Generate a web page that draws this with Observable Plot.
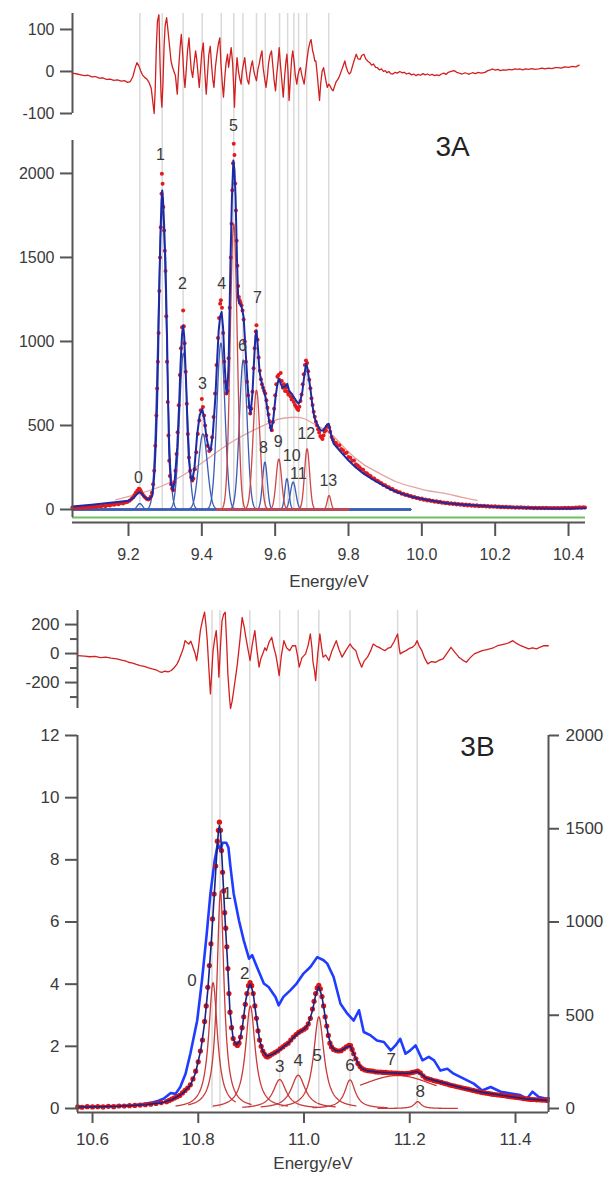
<!DOCTYPE html>
<html><head><meta charset="utf-8">
<script src="https://cdn.jsdelivr.net/npm/d3@7"></script>
<script src="https://cdn.jsdelivr.net/npm/@observablehq/plot@0.6"></script>
<style>
html,body{margin:0;padding:0;background:#fff;}
#wrap{position:relative;width:609px;height:1179px;overflow:hidden;background:#fff;}
</style></head><body><div id="wrap"></div>
<script>
// ---------------- 3A data ----------------
const aPeakLines = [9.231, 9.292, 9.349, 9.401, 9.453, 9.487, 9.512, 9.549, 9.573, 9.612, 9.634, 9.651, 9.664, 9.686, 9.746];
const aResidual = [[9.047,-4],[9.06,-6],[9.07,-8],[9.08,-10],[9.09,-9],[9.10,-13],[9.11,-12],[9.12,-16],[9.13,-15],[9.14,-19],[9.15,-18],[9.16,-21],[9.17,-20],[9.18,-23],[9.19,-22],[9.197,-26],[9.205,-24],[9.212,-12],[9.218,8],[9.223,21],[9.228,14],[9.233,2],[9.238,-8],[9.244,-14],[9.250,-18],[9.256,-26],[9.262,-40],[9.266,-70],[9.270,-100],[9.273,-40],[9.276,60],[9.279,120],[9.283,135],[9.286,20],[9.289,-60],[9.291,-85],[9.294,-30],[9.297,60],[9.300,110],[9.304,128],[9.308,95],[9.312,60],[9.316,25],[9.320,10],[9.324,0],[9.328,-10],[9.333,-54],[9.337,10],[9.341,60],[9.344,88],[9.348,40],[9.351,-10],[9.354,-38],[9.358,10],[9.361,50],[9.365,80],[9.368,40],[9.371,5],[9.375,-14],[9.379,20],[9.383,49],[9.386,30],[9.390,-10],[9.393,-38],[9.397,10],[9.400,45],[9.404,68],[9.408,0],[9.412,-54],[9.416,0],[9.419,40],[9.423,60],[9.427,10],[9.430,-20],[9.433,-38],[9.437,10],[9.441,40],[9.445,65],[9.449,80],[9.452,20],[9.456,-30],[9.459,-61],[9.463,-10],[9.466,20],[9.470,41],[9.473,10],[9.476,30],[9.480,57],[9.484,20],[9.487,-40],[9.489,-85],[9.492,-20],[9.496,33],[9.500,0],[9.503,-15],[9.507,-30],[9.510,0],[9.514,20],[9.517,33],[9.521,0],[9.524,-20],[9.528,-30],[9.531,-5],[9.535,15],[9.538,25],[9.542,0],[9.545,-10],[9.549,-22],[9.553,5],[9.557,20],[9.560,35],[9.564,49],[9.567,10],[9.571,-15],[9.575,-38],[9.579,-10],[9.582,20],[9.586,40],[9.590,49],[9.594,10],[9.597,-20],[9.601,-46],[9.604,-10],[9.608,25],[9.611,57],[9.614,20],[9.618,-20],[9.622,-61],[9.626,-10],[9.629,20],[9.632,41],[9.635,0],[9.638,-69],[9.642,-10],[9.645,30],[9.648,49],[9.652,20],[9.655,-10],[9.659,-30],[9.662,-10],[9.666,5],[9.669,9],[9.673,-10],[9.676,-20],[9.679,-30],[9.683,0],[9.687,30],[9.691,55],[9.695,70],[9.698,76],[9.702,50],[9.705,40],[9.708,25],[9.711,25],[9.715,-10],[9.718,-40],[9.721,-69],[9.724,-30],[9.728,0],[9.732,9],[9.736,-10],[9.739,-25],[9.742,-38],[9.746,-30],[9.750,-35],[9.754,-42],[9.758,-46],[9.762,-35],[9.766,-25],[9.770,-20],[9.774,-14],[9.778,-5],[9.782,5],[9.786,15],[9.790,25],[9.794,10],[9.798,0],[9.802,-6],[9.806,-2],[9.810,10],[9.815,25],[9.821,41],[9.826,30],[9.832,29],[9.836,38],[9.842,41],[9.847,30],[9.852,25],[9.858,21],[9.863,15],[9.868,18],[9.874,10],[9.879,9],[9.884,4],[9.890,6],[9.895,0],[9.900,2],[9.905,-3],[9.910,0],[9.915,-5],[9.921,-6],[9.927,-2],[9.933,-4],[9.940,0],[9.946,-3],[9.952,-2],[9.958,-6],[9.965,-4],[9.972,-8],[9.978,-6],[9.984,-10],[9.990,-7],[9.996,-9],[10.003,-5],[10.009,-8],[10.015,-6],[10.022,-9],[10.028,-7],[10.035,-10],[10.041,-8],[10.047,-10],[10.053,-6],[10.060,-4],[10.066,-7],[10.072,-2],[10.080,0],[10.088,2],[10.095,-2],[10.102,-4],[10.110,-6],[10.118,-3],[10.126,-6],[10.130,-6],[10.138,-3],[10.146,-5],[10.154,-2],[10.162,-4],[10.172,-2],[10.180,2],[10.187,4],[10.193,6],[10.200,3],[10.207,5],[10.214,2],[10.222,4],[10.230,3],[10.238,5],[10.246,4],[10.254,6],[10.262,5],[10.267,6],[10.275,4],[10.283,6],[10.291,5],[10.300,7],[10.308,5],[10.319,6],[10.328,8],[10.336,6],[10.345,8],[10.355,7],[10.364,9],[10.372,9],[10.380,8],[10.390,11],[10.400,10],[10.410,12],[10.420,11],[10.429,15]];
const aSignal = [[9.047,12],[9.053,8],[9.059,14],[9.065,10],[9.071,15],[9.077,9],[9.083,16],[9.089,12],[9.095,18],[9.101,13],[9.107,19],[9.113,15],[9.119,21],[9.125,18],[9.131,24],[9.137,20],[9.143,27],[9.149,24],[9.155,30],[9.161,28],[9.167,34],[9.173,31],[9.179,38],[9.185,36],[9.191,42],[9.197,45],[9.203,52],[9.208,62],[9.212,72],[9.216,86],[9.220,100],[9.224,112],[9.228,123],[9.231,120],[9.234,108],[9.238,92],[9.242,80],[9.246,70],[9.250,62],[9.254,60],[9.258,66],[9.261,78],[9.264,100],[9.267,150],[9.270,230],[9.273,380],[9.276,560],[9.278,720],[9.280,880],[9.282,1050],[9.284,1300],[9.286,1500],[9.288,1680],[9.290,1879],[9.291,1998],[9.293,1938],[9.295,1800],[9.297,1660],[9.299,1540],[9.301,1420],[9.303,1150],[9.305,880],[9.307,640],[9.309,440],[9.311,290],[9.313,200],[9.316,150],[9.319,125],[9.322,115],[9.325,160],[9.328,230],[9.331,330],[9.334,460],[9.337,620],[9.340,800],[9.343,960],[9.346,1085],[9.349,1185],[9.351,1090],[9.353,990],[9.356,820],[9.359,630],[9.362,450],[9.365,310],[9.368,230],[9.371,190],[9.374,172],[9.377,185],[9.381,240],[9.385,340],[9.389,450],[9.393,530],[9.397,590],[9.400,657],[9.403,610],[9.406,560],[9.409,500],[9.412,440],[9.416,380],[9.420,348],[9.424,360],[9.428,430],[9.432,550],[9.436,690],[9.440,860],[9.444,1020],[9.447,1140],[9.450,1225],[9.452,1245],[9.455,1200],[9.458,1050],[9.461,880],[9.464,760],[9.467,690],[9.470,705],[9.473,900],[9.476,1200],[9.479,1500],[9.481,1700],[9.483,1900],[9.485,2060],[9.487,2176],[9.489,2110],[9.491,1940],[9.493,1780],[9.495,1600],[9.497,1450],[9.499,1330],[9.501,1265],[9.503,1245],[9.505,1232],[9.508,1215],[9.511,1185],[9.514,1130],[9.517,1000],[9.520,880],[9.523,760],[9.526,680],[9.529,610],[9.532,572],[9.535,600],[9.538,700],[9.541,840],[9.544,960],[9.547,1060],[9.549,1096],[9.552,1010],[9.555,905],[9.558,825],[9.561,775],[9.564,745],[9.567,725],[9.570,705],[9.573,690],[9.576,650],[9.579,605],[9.582,565],[9.585,525],[9.588,488],[9.591,472],[9.594,520],[9.597,600],[9.600,680],[9.603,745],[9.606,790],[9.609,800],[9.612,770],[9.615,812],[9.618,765],[9.621,725],[9.624,745],[9.627,705],[9.630,725],[9.633,700],[9.636,685],[9.639,695],[9.642,672],[9.645,655],[9.648,665],[9.651,640],[9.654,622],[9.657,612],[9.660,600],[9.663,592],[9.666,612],[9.669,645],[9.672,685],[9.675,745],[9.678,805],[9.681,860],[9.684,887],[9.687,872],[9.690,822],[9.693,772],[9.696,722],[9.699,662],[9.702,622],[9.705,582],[9.708,552],[9.711,522],[9.714,500],[9.717,478],[9.720,458],[9.723,438],[9.726,428],[9.729,420],[9.732,440],[9.735,462],[9.738,472],[9.741,492],[9.744,502],[9.747,490],[9.750,462],[9.754,432],[9.758,415],[9.762,398],[9.766,395],[9.770,378],[9.775,382],[9.780,360],[9.785,352],[9.790,335],[9.795,338],[9.800,312],[9.805,308],[9.810,290],[9.815,292],[9.820,270],[9.825,262],[9.830,252],[9.835,240],[9.840,236],[9.845,218],[9.850,215],[9.855,204],[9.860,200],[9.865,186],[9.870,185],[9.875,172],[9.880,170],[9.885,160],[9.890,156],[9.895,146],[9.900,145],[9.905,134],[9.910,132],[9.915,122],[9.920,122],[9.925,112],[9.930,110],[9.935,102],[9.940,103],[9.945,94],[9.950,94],[9.955,86],[9.960,88],[9.965,80],[9.970,80],[9.975,73],[9.980,75],[9.985,68],[9.990,69],[9.995,63],[10.000,65],[10.005,58],[10.010,60],[10.015,54],[10.020,57],[10.025,50],[10.030,52],[10.035,46],[10.040,49],[10.045,43],[10.050,46],[10.055,40],[10.060,42],[10.065,37],[10.070,40],[10.075,34],[10.080,37],[10.085,32],[10.090,35],[10.095,30],[10.100,33],[10.105,28],[10.110,31],[10.115,26],[10.120,29],[10.125,24],[10.130,28],[10.135,23],[10.140,26],[10.145,21],[10.150,25],[10.155,20],[10.160,23],[10.165,19],[10.170,22],[10.175,18],[10.180,21],[10.185,17],[10.190,20],[10.195,16],[10.200,19],[10.205,15],[10.210,18],[10.215,14],[10.220,17],[10.225,13],[10.230,16],[10.235,12],[10.240,15],[10.245,12],[10.250,14],[10.255,11],[10.260,14],[10.265,10],[10.270,13],[10.275,10],[10.280,12],[10.285,9],[10.290,12],[10.295,9],[10.300,11],[10.305,8],[10.310,11],[10.315,8],[10.320,10],[10.325,8],[10.330,10],[10.335,7],[10.340,10],[10.345,7],[10.350,9],[10.355,7],[10.360,9],[10.365,7],[10.370,9],[10.375,7],[10.380,9],[10.385,8],[10.390,10],[10.395,8],[10.400,10],[10.405,8],[10.410,11],[10.415,9],[10.420,12],[10.425,10],[10.430,13],[10.435,11],[10.440,14],[10.445,12]];
const aFit = [[9.047,18],[9.10,28],[9.169,44],[9.20,52],[9.215,70],[9.224,95],[9.231,103],[9.237,92],[9.244,74],[9.251,63],[9.258,64],[9.265,82],[9.268,140],[9.271,230],[9.275,420],[9.278,629],[9.281,950],[9.284,1304],[9.287,1620],[9.290,1840],[9.292,1899],[9.294,1850],[9.297,1700],[9.301,1462],[9.305,1040],[9.308,640],[9.311,330],[9.315,170],[9.321,113],[9.326,170],[9.333,371],[9.338,620],[9.342,867],[9.346,1040],[9.349,1095],[9.352,1030],[9.357,760],[9.361,480],[9.365,290],[9.370,190],[9.374,172],[9.380,250],[9.387,440],[9.394,560],[9.401,598],[9.406,550],[9.412,440],[9.418,370],[9.424,351],[9.430,450],[9.437,669],[9.442,900],[9.446,1066],[9.450,1150],[9.454,1175],[9.458,1080],[9.462,867],[9.466,720],[9.469,688],[9.473,860],[9.478,1462],[9.482,1850],[9.486,2077],[9.489,2020],[9.492,1859],[9.496,1480],[9.499,1264],[9.502,1225],[9.505,1224],[9.509,1200],[9.514,1145],[9.519,960],[9.524,768],[9.529,620],[9.533,570],[9.538,690],[9.542,867],[9.546,1030],[9.549,1066],[9.553,960],[9.557,830],[9.560,788],[9.565,740],[9.569,709],[9.574,665],[9.578,610],[9.584,520],[9.589,470],[9.595,540],[9.601,669],[9.606,745],[9.610,778],[9.614,755],[9.617,740],[9.621,725],[9.624,728],[9.628,735],[9.633,748],[9.637,715],[9.640,700],[9.646,688],[9.650,670],[9.655,655],[9.660,638],[9.664,629],[9.669,650],[9.674,700],[9.679,790],[9.683,850],[9.685,867],[9.688,840],[9.692,780],[9.696,720],[9.701,629],[9.706,560],[9.710,530],[9.717,495],[9.724,470],[9.730,470],[9.737,490],[9.742,505],[9.746,510],[9.750,470],[9.755,420],[9.760,391],[9.770,365],[9.780,340],[9.796,301],[9.82,250],[9.842,212],[9.865,180],[9.887,153],[9.91,125],[9.933,103],[9.955,87],[9.978,73],[10.02,55],[10.069,37],[10.11,30],[10.16,22],[10.20,17],[10.251,12],[10.30,9],[10.342,6],[10.40,6],[10.446,7]];
const aBackground = [[9.165,57],[9.23,95],[9.305,153],[9.396,271],[9.487,409],[9.578,510],[9.614,540],[9.651,549],[9.680,540],[9.705,510],[9.751,450],[9.796,351],[9.84,270],[9.887,212],[9.93,165],[9.978,133],[10.02,110],[10.069,93],[10.11,72],[10.151,54]];
// Gaussian components: centre (eV), height, width (sigma, eV), family
const aCompCentre = [9.231, 9.292, 9.350, 9.403, 9.452, 9.487, 9.513, 9.549, 9.572, 9.610, 9.632, 9.649, 9.687, 9.747];
const aCompHeight = [35, 1780, 930, 450, 990, 1700, 890, 710, 282, 300, 183, 163, 361, 83];
const aCompSigma  = [0.007, 0.0115, 0.011, 0.012, 0.011, 0.0095, 0.0105, 0.0095, 0.0065, 0.0075, 0.0055, 0.0075, 0.007, 0.005];
const aCompFamily = ["b","b","b","b","b","r","b","r","b","r","b","b","r","r"];
const aLabelText = ["0","1","2","3","4","5","6","7","8","9","10","11","12","13"];
const aLabelE = [9.227, 9.287, 9.347, 9.402, 9.454, 9.486, 9.511, 9.552, 9.568, 9.608, 9.645, 9.663, 9.685, 9.745];
const aLabelV = [190, 2113, 1345, 750, 1345, 2286, 976, 1262, 369, 405, 318, 210, 452, 173];
const aXTicks = [9.2, 9.4, 9.6, 9.8, 10.0, 10.2, 10.4];
const aYTicks = [0, 500, 1000, 1500, 2000];
const aResTicks = [-100, 0, 100];

// ---------------- 3B data ----------------
const bPeakLines = [10.826, 10.841, 10.8975, 10.954, 10.989, 11.028, 11.087, 11.177, 11.214];
const bResidual = [[10.572,-14],[10.585,-18],[10.595,-22],[10.605,-20],[10.615,-28],[10.625,-25],[10.635,-32],[10.646,-37],[10.655,-45],[10.662,-50],[10.668,-60],[10.676,-66],[10.683,-75],[10.690,-83],[10.698,-88],[10.706,-98],[10.713,-106],[10.720,-112],[10.726,-124],[10.731,-129],[10.737,-122],[10.743,-126],[10.749,-117],[10.755,-96],[10.760,-71],[10.764,-40],[10.768,-2],[10.772,40],[10.775,89],[10.779,75],[10.782,66],[10.786,85],[10.790,43],[10.794,0],[10.797,-48],[10.800,30],[10.804,158],[10.808,230],[10.812,285],[10.815,180],[10.817,89],[10.820,-100],[10.823,-278],[10.826,-100],[10.828,20],[10.831,100],[10.834,158],[10.837,0],[10.839,-163],[10.842,50],[10.845,227],[10.848,270],[10.851,285],[10.854,50],[10.856,-140],[10.859,-300],[10.861,-379],[10.864,-330],[10.867,-255],[10.871,-150],[10.874,-71],[10.879,100],[10.883,250],[10.887,180],[10.890,112],[10.894,30],[10.898,-48],[10.902,60],[10.907,158],[10.911,20],[10.915,-94],[10.918,-40],[10.922,-2],[10.926,40],[10.929,20],[10.934,80],[10.939,112],[10.943,40],[10.947,-14],[10.950,-80],[10.953,-152],[10.957,-20],[10.962,89],[10.967,40],[10.973,20],[10.978,54],[10.984,54],[10.988,-20],[10.991,-94],[10.996,-30],[11.003,-2],[11.008,60],[11.012,135],[11.015,40],[11.017,-60],[11.020,-120],[11.022,-186],[11.026,0],[11.030,135],[11.033,50],[11.036,-25],[11.041,-10],[11.047,-48],[11.053,20],[11.061,89],[11.066,30],[11.072,-25],[11.079,20],[11.087,66],[11.092,40],[11.098,20],[11.103,-40],[11.109,-94],[11.114,-50],[11.120,-25],[11.126,20],[11.131,66],[11.137,50],[11.142,43],[11.148,30],[11.153,20],[11.158,35],[11.164,43],[11.170,80],[11.177,135],[11.180,40],[11.182,-2],[11.187,10],[11.193,20],[11.199,35],[11.205,43],[11.210,60],[11.214,89],[11.218,50],[11.223,20],[11.228,-30],[11.234,-71],[11.241,-55],[11.249,-60],[11.256,-45],[11.263,-37],[11.270,0],[11.278,43],[11.285,10],[11.293,-25],[11.300,-45],[11.307,-60],[11.314,-30],[11.322,-2],[11.330,10],[11.337,20],[11.344,25],[11.351,32],[11.358,40],[11.366,54],[11.373,60],[11.381,66],[11.388,75],[11.395,89],[11.402,70],[11.410,54],[11.417,45],[11.425,32],[11.432,40],[11.440,32],[11.447,45],[11.454,54],[11.462,54]];
const bSignal = [[10.572,0.05],[10.58,0.04],[10.59,0.06],[10.60,0.05],[10.61,0.06],[10.62,0.05],[10.63,0.07],[10.64,0.06],[10.65,0.08],[10.66,0.08],[10.67,0.09],[10.68,0.10],[10.69,0.11],[10.70,0.12],[10.71,0.14],[10.72,0.16],[10.73,0.19],[10.74,0.22],[10.745,0.26],[10.75,0.30],[10.755,0.34],[10.76,0.38],[10.765,0.42],[10.77,0.50],[10.775,0.58],[10.78,0.66],[10.785,0.76],[10.79,0.95],[10.795,1.2],[10.80,1.5],[10.804,1.85],[10.808,2.2],[10.812,2.8],[10.815,3.3],[10.818,3.9],[10.821,4.6],[10.824,5.3],[10.827,6.1],[10.830,6.9],[10.833,7.8],[10.836,8.6],[10.838,8.95],[10.840,9.21],[10.842,8.95],[10.844,8.3],[10.846,7.6],[10.848,7.0],[10.850,6.3],[10.852,5.8],[10.854,5.2],[10.856,4.5],[10.858,3.7],[10.860,3.1],[10.863,2.6],[10.866,2.25],[10.870,2.08],[10.874,2.03],[10.877,2.1],[10.880,2.3],[10.883,2.6],[10.886,2.95],[10.889,3.35],[10.892,3.7],[10.895,3.95],[10.898,4.05],[10.901,3.95],[10.904,3.7],[10.907,3.3],[10.910,2.9],[10.913,2.5],[10.916,2.2],[10.919,2.0],[10.922,1.85],[10.925,1.75],[10.928,1.68],[10.931,1.66],[10.935,1.70],[10.940,1.75],[10.945,1.80],[10.950,1.85],[10.955,1.92],[10.960,1.98],[10.965,2.05],[10.970,2.10],[10.975,2.2],[10.980,2.3],[10.985,2.38],[10.990,2.45],[10.995,2.5],[11.000,2.55],[11.004,2.6],[11.008,2.72],[11.012,2.9],[11.016,3.2],[11.019,3.45],[11.022,3.7],[11.025,3.88],[11.028,3.96],[11.031,3.85],[11.034,3.6],[11.037,3.3],[11.040,2.95],[11.043,2.65],[11.046,2.35],[11.049,2.1],[11.052,1.98],[11.056,1.9],[11.060,1.87],[11.065,1.85],[11.070,1.86],[11.075,1.92],[11.080,1.98],[11.085,2.03],[11.088,2.02],[11.091,1.9],[11.094,1.76],[11.098,1.6],[11.102,1.45],[11.106,1.35],[11.110,1.28],[11.115,1.24],[11.120,1.22],[11.125,1.21],[11.130,1.20],[11.135,1.18],[11.140,1.17],[11.145,1.17],[11.150,1.16],[11.155,1.16],[11.160,1.15],[11.165,1.15],[11.170,1.14],[11.175,1.14],[11.180,1.13],[11.185,1.13],[11.190,1.12],[11.195,1.13],[11.200,1.14],[11.205,1.16],[11.210,1.18],[11.215,1.20],[11.220,1.15],[11.225,1.05],[11.230,0.98],[11.235,0.95],[11.240,0.93],[11.245,0.90],[11.250,0.88],[11.255,0.86],[11.260,0.84],[11.265,0.81],[11.270,0.79],[11.275,0.76],[11.280,0.74],[11.285,0.72],[11.290,0.70],[11.295,0.68],[11.300,0.66],[11.305,0.64],[11.310,0.62],[11.315,0.60],[11.320,0.58],[11.325,0.56],[11.330,0.54],[11.335,0.52],[11.340,0.51],[11.345,0.49],[11.350,0.48],[11.355,0.46],[11.360,0.45],[11.365,0.44],[11.370,0.43],[11.375,0.42],[11.380,0.41],[11.385,0.39],[11.390,0.38],[11.395,0.37],[11.400,0.36],[11.405,0.35],[11.410,0.34],[11.415,0.32],[11.420,0.31],[11.425,0.30],[11.430,0.29],[11.435,0.29],[11.440,0.28],[11.445,0.28],[11.450,0.27],[11.455,0.27],[11.460,0.26]];
const bFit = [[10.572,0.05],[10.60,0.05],[10.65,0.07],[10.70,0.12],[10.73,0.18],[10.75,0.28],[10.77,0.48],[10.785,0.74],[10.795,1.15],[10.805,1.9],[10.812,2.75],[10.818,3.8],[10.824,5.2],[10.830,6.8],[10.835,8.2],[10.838,8.9],[10.840,9.1],[10.842,8.9],[10.845,8.0],[10.850,6.3],[10.855,4.8],[10.860,3.1],[10.866,2.25],[10.872,2.05],[10.878,2.15],[10.884,2.7],[10.890,3.5],[10.896,3.95],[10.899,4.0],[10.904,3.7],[10.910,2.9],[10.916,2.2],[10.922,1.85],[10.930,1.68],[10.940,1.74],[10.950,1.84],[10.960,1.97],[10.970,2.1],[10.980,2.28],[10.990,2.44],[11.000,2.55],[11.008,2.7],[11.016,3.15],[11.022,3.65],[11.028,3.92],[11.034,3.6],[11.040,2.95],[11.046,2.35],[11.052,1.98],[11.060,1.86],[11.070,1.86],[11.080,1.97],[11.087,2.02],[11.094,1.76],[11.102,1.45],[11.110,1.28],[11.120,1.21],[11.140,1.17],[11.160,1.15],[11.180,1.13],[11.200,1.14],[11.213,1.19],[11.222,1.1],[11.232,0.97],[11.260,0.84],[11.300,0.66],[11.340,0.51],[11.380,0.41],[11.420,0.31],[11.460,0.26]];
const bOther = [[10.572,0.05],[10.60,0.06],[10.63,0.07],[10.66,0.09],[10.678,0.1],[10.695,0.14],[10.710,0.18],[10.725,0.25],[10.735,0.32],[10.748,0.5],[10.757,0.47],[10.766,0.69],[10.776,1.12],[10.785,1.76],[10.798,2.83],[10.807,4.12],[10.816,5.62],[10.823,6.91],[10.831,7.98],[10.837,8.51],[10.842,8.3],[10.846,8.55],[10.853,8.55],[10.857,8.4],[10.861,7.76],[10.867,6.91],[10.877,6.05],[10.886,5.41],[10.896,4.82],[10.902,4.93],[10.911,4.55],[10.924,4.02],[10.933,3.91],[10.946,3.59],[10.952,3.32],[10.961,3.59],[10.974,3.80],[10.986,4.02],[10.999,4.34],[11.012,4.55],[11.025,4.87],[11.037,4.77],[11.044,4.66],[11.056,4.23],[11.069,3.37],[11.082,3.05],[11.094,2.83],[11.104,3.16],[11.113,2.46],[11.126,2.35],[11.138,2.19],[11.151,2.14],[11.164,1.87],[11.173,2.03],[11.182,2.24],[11.192,1.76],[11.201,1.87],[11.211,2.03],[11.224,1.55],[11.236,1.66],[11.246,1.55],[11.258,1.22],[11.271,1.28],[11.283,1.12],[11.302,0.96],[11.321,0.80],[11.337,0.58],[11.353,0.69],[11.372,0.54],[11.391,0.48],[11.409,0.43],[11.422,0.32],[11.432,0.54],[11.444,0.37],[11.457,0.32],[11.463,0.33]];
// Lorentzian components: centre, height, half-width, drawn span (lo, hi)
const bCompCentre = [10.828, 10.842, 10.8985, 10.954, 10.989, 11.028, 11.087, 11.177, 11.215];
const bCompHeight = [4.05, 7.0, 3.3, 0.93, 1.07, 2.95, 0.92, 1.06, 0.22];
const bCompGamma  = [0.010, 0.008, 0.011, 0.015, 0.016, 0.012, 0.012, 0.11, 0.008];
const bCompLo = [10.758, 10.782, 10.8285, 10.884, 10.919, 10.958, 11.017, 11.107, 11.140];
const bCompHi = [10.870, 10.900, 10.9685, 11.024, 11.059, 11.098, 11.157, 11.250, 11.290];
const bLabelText = ["0","1","2","3","4","5","6","7","8"];
const bLabelE = [10.788, 10.855, 10.888, 10.954, 10.989, 11.025, 11.087, 11.165, 11.220];
const bLabelV = [4.12, 6.9, 4.34, 1.35, 1.54, 1.7, 1.38, 1.58, 0.56];
const bXTicks = [10.6, 10.8, 11.0, 11.2, 11.4];
const bYTicks = [0, 2, 4, 6, 8, 10, 12];
const bRightTicks = [0, 500, 1000, 1500, 2000];
const bRightMax = 2000; // right axis value aligned with left 12
const bResMajor = [-200, 0, 200];
const bResMinor = [-300, -100, 100];

// ---------------- helpers ----------------
const wrap = document.getElementById("wrap");
const FONT = "'Liberation Sans', Arial, Helvetica, sans-serif";
const TXT = "#3a3a3a", AX = "#555";
function place(svg, top) {
  svg.style.position = "absolute"; svg.style.left = "0px"; svg.style.top = top + "px";
  wrap.appendChild(svg);
}
function st(size) { return {background: "transparent", fontFamily: FONT, fontSize: size + "px", color: TXT, overflow: "visible"}; }
const ex = d => d[0], ey = d => d[1];

// ---------------- 3A ----------------
const aX = [9.0473, 10.4463];
const aY = [-77.4, 2196];

place(Plot.plot({
  width: 609, height: 520, marginLeft: 72, marginRight: 24, marginTop: 13, marginBottom: 10,
  style: st(16), x: {domain: aX, axis: null}, y: {domain: [0, 1], axis: null},
  marks: [Plot.ruleX(aPeakLines, {stroke: "#dadada", strokeWidth: 1.5})]
}), 0);

place(Plot.plot({
  width: 609, height: 120, marginLeft: 72, marginRight: 24, marginTop: 13, marginBottom: 7,
  style: st(16), x: {domain: aX, axis: null}, y: {domain: [-100, 138]},
  marks: [
    Plot.ruleX([aX[0]], {y1: -100, y2: 138, stroke: AX, strokeWidth: 2}),
    Plot.axisY(aResTicks, {tickSize: 12, tickPadding: 6, stroke: AX, strokeWidth: 2, tickFormat: d => String(d), label: null}),
    Plot.line(aResidual, {x: ex, y: ey, stroke: "#d21f1f", strokeWidth: 1.3})
  ]
}), 0);

const aCompPts = [];
aCompCentre.forEach((c, i) => {
  const lo = aCompFamily[i] === "b" ? 9.048 : 9.44, hi = aCompFamily[i] === "b" ? 9.97 : 9.80;
  for (let e = lo; e <= hi + 1e-9; e += 0.001)
    aCompPts.push({e, v: aCompHeight[i] * Math.exp(-0.5 * ((e - c) / aCompSigma[i]) ** 2), id: i, fam: aCompFamily[i]});
});

place(Plot.plot({
  width: 609, height: 600, marginLeft: 72, marginRight: 24, marginTop: 140, marginBottom: 78,
  style: st(16), x: {domain: aX}, y: {domain: aY},
  marks: [
    Plot.ruleY([-47.6], {x1: aX[0], x2: aX[1], stroke: "#6cc05a", strokeWidth: 2}),
    Plot.line(aBackground, {x: ex, y: ey, curve: "natural", stroke: "#e6a3a3", strokeWidth: 1.3}),
    Plot.line(aCompPts.filter(d => d.fam === "b"), {x: "e", y: "v", z: "id", stroke: "#3b5bb5", strokeWidth: 1.3}),
    Plot.line(aCompPts.filter(d => d.fam === "r"), {x: "e", y: "v", z: "id", stroke: "#d04545", strokeWidth: 1.3}),
    Plot.dot(aSignal, {x: ex, y: ey, r: 2, fill: "#e3191c", stroke: null}),
    Plot.line(aFit, {x: ex, y: ey, stroke: "#1d2aa3", strokeWidth: 2}),
    Plot.ruleX([aX[0]], {y1: -48, y2: aY[1], stroke: AX, strokeWidth: 2}),
    Plot.ruleY([aY[0]], {x1: aX[0], x2: aX[1], stroke: AX, strokeWidth: 2}),
    Plot.axisY(aYTicks, {tickSize: 12, tickPadding: 6, stroke: AX, strokeWidth: 2, tickFormat: d => String(d), label: null}),
    Plot.axisX(aXTicks, {tickSize: 14, tickPadding: 12, stroke: AX, strokeWidth: 2, tickFormat: d3.format(".1f"), label: null}),
    Plot.text(["Energy/eV"], {frameAnchor: "bottom", dy: 64, text: d => d, fontSize: 17, fill: TXT}),
    Plot.text(aLabelText, {x: (d, i) => aLabelE[i], y: (d, i) => aLabelV[i], text: d => d, fontSize: 16, fill: TXT}),
    Plot.text(["3A"], {x: 10.084, y: 2155, text: d => d, fontSize: 28, fill: "#222"})
  ]
}), 0);

// ---------------- 3B ----------------
const bX = [10.5716, 11.4624];
const bY = [-0.129, 12];

place(Plot.plot({
  width: 609, height: 510, marginLeft: 77, marginRight: 61, marginTop: 10, marginBottom: 2,
  style: st(17), x: {domain: bX, axis: null}, y: {domain: [0, 1], axis: null},
  marks: [Plot.ruleX(bPeakLines, {stroke: "#dadada", strokeWidth: 1.5})]
}), 600);

place(Plot.plot({
  width: 609, height: 110, marginLeft: 77, marginRight: 61, marginTop: 10, marginBottom: 2,
  style: st(17), x: {domain: bX, axis: null}, y: {domain: [-379, 297]},
  marks: [
    Plot.ruleX([bX[0]], {y1: -379, y2: 297, stroke: AX, strokeWidth: 2}),
    Plot.axisY(bResMinor, {tickSize: 7, text: null, stroke: AX, strokeWidth: 2, label: null}),
    Plot.axisY(bResMajor, {tickSize: 12, tickPadding: 6, stroke: AX, strokeWidth: 2, tickFormat: d => String(d), label: null}),
    Plot.line(bResidual, {x: ex, y: ey, stroke: "#d21f1f", strokeWidth: 1.3})
  ]
}), 600);

const bCompPts = [];
bCompCentre.forEach((c, i) => {
  for (let e = bCompLo[i]; e <= bCompHi[i] + 1e-9; e += 0.001)
    bCompPts.push({e, v: bCompHeight[i] / (1 + ((e - c) / bCompGamma[i]) ** 2), id: i});
});

place(Plot.plot({
  width: 609, height: 579, marginLeft: 77, marginRight: 61, marginTop: 135, marginBottom: 67,
  style: st(17), x: {domain: bX}, y: {domain: bY},
  marks: [
    Plot.line(bOther, {x: ex, y: ey, stroke: "#1f3cff", strokeWidth: 2.6}),
    Plot.line(bCompPts, {x: "e", y: "v", z: "id", stroke: "#c93a3a", strokeWidth: 1.3}),
    Plot.dot(bSignal, {x: ex, y: ey, r: 2.6, fill: "#dd1414", stroke: null}),
    Plot.line(bFit, {x: ex, y: ey, stroke: "#1a2380", strokeWidth: 1.6}),
    Plot.ruleX([bX[0]], {y1: bY[0], y2: bY[1], stroke: AX, strokeWidth: 2}),
    Plot.ruleX([bX[1]], {y1: bY[0], y2: bY[1], stroke: AX, strokeWidth: 2}),
    Plot.ruleY([bY[0]], {x1: bX[0], x2: bX[1], stroke: AX, strokeWidth: 2}),
    Plot.axisY(bYTicks, {tickSize: 12, tickPadding: 6, stroke: AX, strokeWidth: 2, tickFormat: d => String(d), label: null}),
    Plot.axisY(bRightTicks.map(c => c * bY[1] / bRightMax), {anchor: "right", tickSize: 10, tickPadding: 7, stroke: AX, strokeWidth: 2, tickFormat: d => String(Math.round(d * bRightMax / bY[1])), label: null}),
    Plot.axisX(bXTicks, {tickSize: 11, tickPadding: 9, stroke: AX, strokeWidth: 2, tickFormat: d3.format(".1f"), label: null}),
    Plot.text(["Energy/eV"], {frameAnchor: "bottom", dy: 56, text: d => d, fontSize: 17, fill: TXT}),
    Plot.text(bLabelText, {x: (d, i) => bLabelE[i], y: (d, i) => bLabelV[i], text: d => d, fontSize: 17, fill: TXT}),
    Plot.text(["3B"], {x: 11.328, y: 11.63, text: d => d, fontSize: 28, fill: "#222"})
  ]
}), 600);
</script></body></html>
